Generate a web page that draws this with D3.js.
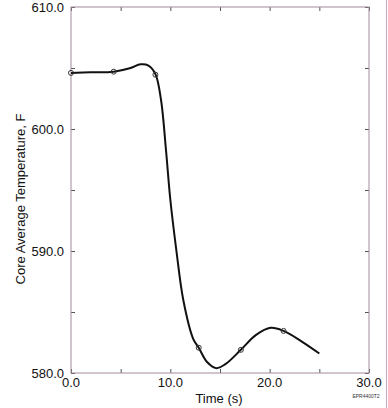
<html>
<head>
<script src="https://cdnjs.cloudflare.com/ajax/libs/d3/7.8.5/d3.min.js"></script>
<style>
  body { margin: 0; background: white; }
  text { font-family: "Liberation Sans", Arial, sans-serif; }
</style>
</head>
<body>
<svg width="388" height="408"></svg>
<script>
// curve (time s, temperature F)
const curveTime = [0, 2, 4.3, 6, 7.0, 7.8, 8.5, 9.06, 9.56, 10.0, 10.6, 11.3, 12.3, 12.86, 13.7, 14.6, 15.5, 17.1, 18.6, 20.1, 21.4, 23.2, 25.0];
const curveTemp = [604.6, 604.65, 604.7, 605.0, 605.3, 605.2, 604.5, 602.4, 598.3, 594.2, 590.1, 586.0, 582.8, 582.07, 580.9, 580.4, 580.7, 581.9, 583.1, 583.7, 583.45, 582.6, 581.6];
// circled points
const markTime = [0, 4.3, 8.5, 12.86, 17.1, 21.4];
const markTemp = [604.6, 604.7, 604.45, 582.07, 581.9, 583.45];
const xTicks = [0, 10, 20, 30];
const yTicks = [580, 590, 600, 610];

const svg = d3.select("svg");
const mLeft = 71, mRight = 369, mTop = 7, mBottom = 373;

const x = d3.scaleLinear().domain([0, 30]).range([mLeft, mRight]);
const y = d3.scaleLinear().domain([580, 610]).range([mBottom, mTop]);

const frameCol = "#a28c9c";

// tick marks all around, pointing in
const g = svg.append("g");
g.append("g").attr("transform", `translate(0,${mBottom})`)
  .call(d3.axisBottom(x).tickValues(d3.range(0, 31, 5)).tickSize(-4).tickFormat(""));
g.append("g").attr("transform", `translate(0,${mTop})`)
  .call(d3.axisTop(x).tickValues(d3.range(0, 31, 5)).tickSize(-4).tickFormat(""));
g.append("g").attr("transform", `translate(${mLeft},0)`)
  .call(d3.axisLeft(y).tickValues(d3.range(580, 611, 5)).tickSize(-4).tickFormat(""));
g.append("g").attr("transform", `translate(${mRight},0)`)
  .call(d3.axisRight(y).tickValues(d3.range(580, 611, 5)).tickSize(-4).tickFormat(""));
g.selectAll(".domain").remove();
g.selectAll(".tick line").attr("stroke", "#555");

svg.append("rect")
  .attr("x", mLeft).attr("y", mTop)
  .attr("width", mRight - mLeft).attr("height", mBottom - mTop)
  .attr("fill", "none").attr("stroke", frameCol).attr("stroke-width", 1);

// outer border line at right
svg.append("line").attr("x1", 386.5).attr("x2", 386.5).attr("y1", 0).attr("y2", 408)
  .attr("stroke", "#c8a8c0").attr("stroke-width", 1);

// tick labels
svg.selectAll(".xl").data(xTicks).join("text")
  .attr("x", d => x(d)).attr("y", 387)
  .attr("text-anchor", "middle").attr("font-size", 13).attr("fill", "#111")
  .text(d => d.toFixed(1));
svg.selectAll(".yl").data(yTicks).join("text")
  .attr("x", 64).attr("y", d => y(d) + 5)
  .attr("text-anchor", "end").attr("font-size", 13).attr("fill", "#111")
  .text(d => d.toFixed(1));

svg.append("text").attr("x", 219).attr("y", 403)
  .attr("text-anchor", "middle").attr("font-size", 13).attr("fill", "#111")
  .text("Time (s)");
svg.append("text")
  .attr("transform", "translate(25,199) rotate(-90)")
  .attr("text-anchor", "middle").attr("font-size", 13).attr("fill", "#111")
  .text("Core Average Temperature, F");
svg.append("text").attr("x", 366).attr("y", 398)
  .attr("text-anchor", "middle").attr("font-size", 5).attr("fill", "#333")
  .text("EPR4400T2");

const pts = curveTime.map((t, i) => [t, curveTemp[i]]);
const line = d3.line().x(d => x(d[0])).y(d => y(d[1])).curve(d3.curveCatmullRom.alpha(0.5));
svg.append("path").datum(pts)
  .attr("d", line).attr("fill", "none")
  .attr("stroke", "#111").attr("stroke-width", 2);

svg.selectAll(".mk").data(markTime).join("circle")
  .attr("cx", d => x(d)).attr("cy", (d, i) => y(markTemp[i]))
  .attr("r", 2.5).attr("fill", "none").attr("stroke", "#333").attr("stroke-width", 1);
</script>
</body>
</html>
